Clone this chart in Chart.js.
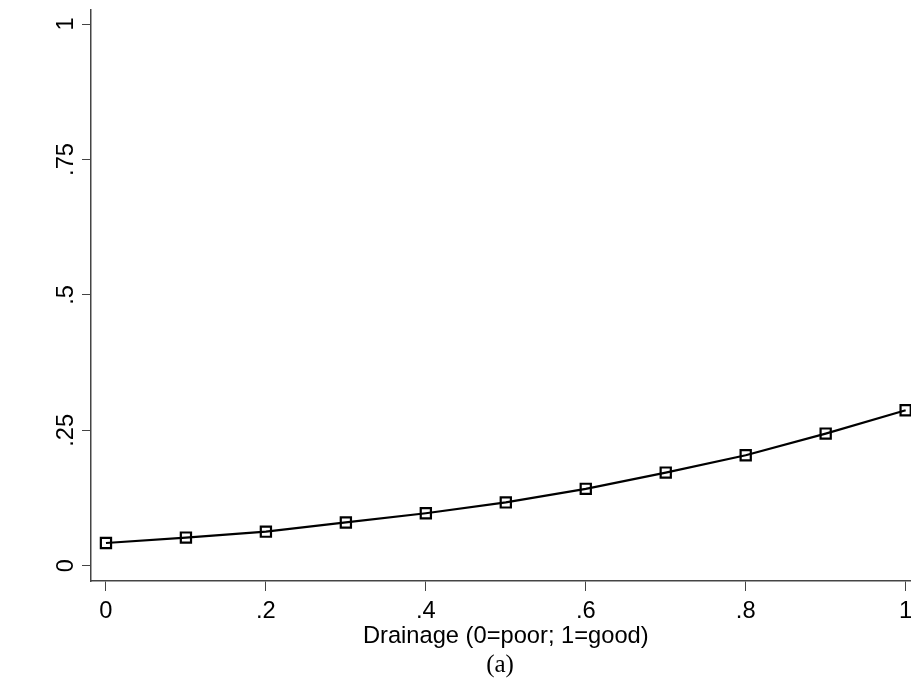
<!DOCTYPE html>
<html>
<head>
<meta charset="utf-8">
<script src="https://cdn.jsdelivr.net/npm/chart.js@4/dist/chart.umd.min.js"></script>
<style>
  html, body { margin: 0; padding: 0; background: #fff; overflow: hidden; }
  #wrap { width: 930px; height: 687px; }
</style>
</head>
<body>
<div id="wrap"><canvas id="chart" width="930" height="687"></canvas></div>
<script>
// values
const drainage = [0, 0.1, 0.2, 0.3, 0.4, 0.5, 0.6, 0.7, 0.8, 0.9, 1];
const prob = [0.042, 0.052, 0.063, 0.080, 0.097, 0.117, 0.142, 0.172, 0.204, 0.244, 0.287];

const xTicks = [0, 0.2, 0.4, 0.6, 0.8, 1];
const xTickLabels = ['0', '.2', '.4', '.6', '.8', '1'];
const yTicks = [0, 0.25, 0.5, 0.75, 1];
const yTickLabels = ['0', '.25', '.5', '.75', '1'];
const xTitle = 'Drainage (0=poor; 1=good)';
const caption = '(a)';

const axisColor = '#444';

// tick labels, axis title and caption drawn from the scales
const labelsPlugin = {
  id: 'labels',
  afterDraw(chart) {
    const ctx = chart.ctx;
    const xs = chart.scales.x;
    const ys = chart.scales.y;
    const area = chart.chartArea;
    ctx.save();
    ctx.fillStyle = '#000';
    ctx.font = '23.7px "Liberation Sans", Arial, sans-serif';
    ctx.textAlign = 'center';
    ctx.textBaseline = 'middle';
    xTicks.forEach((v, i) => {
      ctx.fillText(xTickLabels[i], xs.getPixelForValue(v), 611);
    });
    yTicks.forEach((v, i) => {
      ctx.save();
      ctx.translate(66, ys.getPixelForValue(v));
      ctx.rotate(-Math.PI / 2);
      ctx.fillText(yTickLabels[i], 0, 0);
      ctx.restore();
    });
    ctx.fillText(xTitle, (area.left + area.right) / 2, 636);
    ctx.font = '25px "Liberation Serif", "Times New Roman", serif';
    ctx.fillText(caption, 500, 665);
    ctx.restore();
  }
};

new Chart(document.getElementById('chart'), {
  type: 'line',
  data: {
    datasets: [{
      data: drainage.map((d, i) => ({ x: d, y: prob[i] })),
      borderColor: '#000',
      borderWidth: 2.2,
      pointStyle: 'rect',
      pointRadius: 7.2,
      pointBorderWidth: 2.2,
      pointBorderColor: '#000',
      pointBackgroundColor: 'rgba(0,0,0,0)',
      tension: 0,
      clip: false
    }]
  },
  options: {
    responsive: false,
    animation: false,
    layout: { padding: { left: 82, top: 7, right: 7, bottom: 96 } },
    plugins: { legend: { display: false }, tooltip: { enabled: false } },
    scales: {
      x: {
        type: 'linear',
        min: -0.0187,
        max: 1.0187,
        afterBuildTicks: s => { s.ticks = xTicks.map(v => ({ value: v })); },
        ticks: { display: false },
        grid: { drawOnChartArea: false, drawTicks: true, tickLength: 10, color: axisColor, lineWidth: 1 },
        border: { display: true, color: axisColor, width: 1.5 }
      },
      y: {
        type: 'linear',
        min: -0.0281,
        max: 1.027,
        afterBuildTicks: s => { s.ticks = yTicks.map(v => ({ value: v })); },
        ticks: { display: false },
        grid: { drawOnChartArea: false, drawTicks: true, tickLength: 9, color: axisColor, lineWidth: 1 },
        border: { display: true, color: axisColor, width: 1.5 }
      }
    }
  },
  plugins: [labelsPlugin]
});
</script>
</body>
</html>
